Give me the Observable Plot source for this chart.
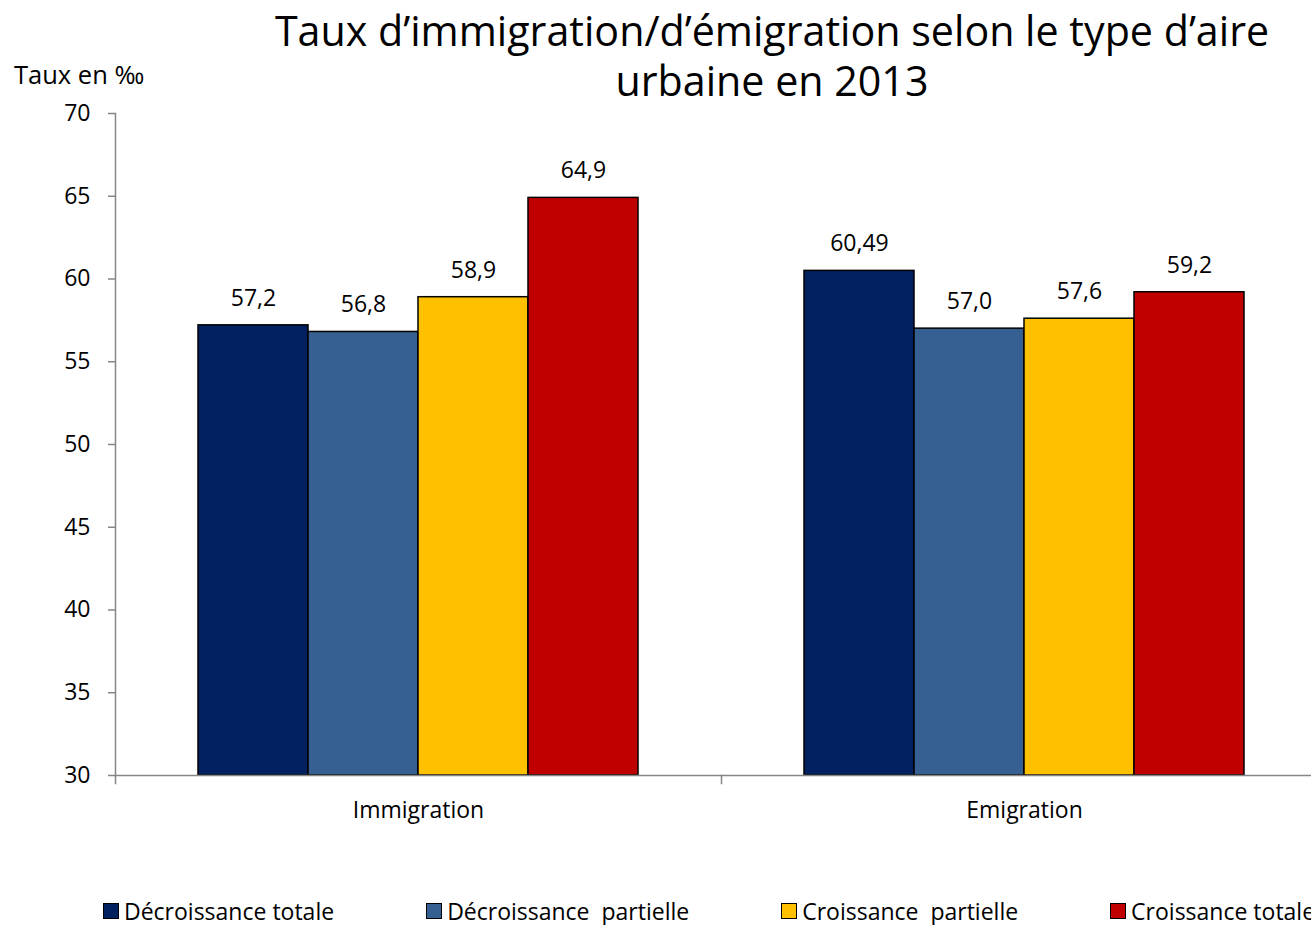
<!DOCTYPE html>
<html>
<head>
<meta charset="utf-8">
<script src="https://cdn.jsdelivr.net/npm/d3@7"></script>
<script src="https://cdn.jsdelivr.net/npm/@observablehq/plot@0.6"></script>
<style>
  html, body { margin: 0; padding: 0; background: #fff; overflow: hidden; width: 1311px; height: 925px; }
  body { position: relative; font-family: "Open Sans", sans-serif; color: #000; }
  .tl { position: absolute; left: 172px; width: 1200px; text-align: center; font-size: 41.2px; height: 50px; line-height: 50px; white-space: nowrap; overflow: visible; }
  #t1 { top: 5px; }
  #t2 { top: 55px; }
  #ylabel { position: absolute; left: 14px; top: 59px; font-size: 25.5px; line-height: 30px; white-space: nowrap; }
  #chart { position: absolute; left: 0; top: 0; width: 1340px; }
  #chart svg { max-width: none !important; }
  #legend { position: absolute; left: 103px; top: 896px; display: flex; gap: 92px; font-size: 23px; line-height: 30px; white-space: pre; }
  .item { display: flex; align-items: center; }
  .sw { width: 14px; height: 14px; border: 1px solid #000; margin-right: 5px; }
</style>
</head>
<body>
<div class="tl" id="t1">Taux d’immigration/d’émigration selon le type d’aire</div>
<div class="tl" id="t2">urbaine en 2013</div>
<div id="ylabel">Taux en ‰</div>
<div id="chart"></div>
<div id="legend"></div>
<script>
const groups = ["Immigration", "Emigration"];
const types = ["Décroissance totale", "Décroissance  partielle", "Croissance  partielle", "Croissance totale"];
const colors = ["#002060", "#366092", "#FFC000", "#C00000"];
const immigration = [57.2, 56.8, 58.9, 64.9];
const emigration = [60.49, 57.0, 57.6, 59.2];
const immigrationLabels = ["57,2", "56,8", "58,9", "64,9"];
const emigrationLabels = ["60,49", "57,0", "57,6", "59,2"];
const yTicks = [30, 35, 40, 45, 50, 55, 60, 65, 70];

const data = [];
types.forEach((t, i) => data.push({group: "Immigration", type: t, value: immigration[i], label: immigrationLabels[i]}));
types.forEach((t, i) => data.push({group: "Emigration", type: t, value: emigration[i], label: emigrationLabels[i]}));

const axisGray = "#868686";

const chart = Plot.plot({
  width: 1340,
  height: 835,
  marginLeft: 115,
  marginRight: 13,
  marginTop: 113,
  marginBottom: 60,
  style: {fontFamily: "Open Sans, sans-serif", fontSize: "23px", color: "#000", background: "transparent", overflow: "visible"},
  fx: {domain: groups, padding: 0, label: null},
  x: {domain: types, paddingInner: 0, paddingOuter: 0.7545, axis: null},
  y: {domain: [30, 70], label: null},
  color: {domain: types, range: colors},
  marks: [
    Plot.barY(data, {fx: "group", x: "type", y1: 30, y2: "value", fill: "type", stroke: "#000", strokeWidth: 1.5}),
    Plot.ruleY([30], {stroke: axisGray, strokeWidth: 1.5}),
    Plot.frame({anchor: "left", facet: "super", stroke: axisGray, strokeWidth: 1.5}),
    Plot.frame({anchor: "left", stroke: axisGray, strokeWidth: 1.5, insetTop: 662, insetBottom: -8}),
    Plot.text(data, {fx: "group", x: "type", y: "value", text: "label", dy: -27, fontSize: 23, fill: "#000"}),
    Plot.axisY(yTicks, {tickSize: 7, tickPadding: 18, stroke: axisGray, strokeWidth: 1.5, fill: "#000", fontSize: 23, label: null}),
    Plot.axisFx({anchor: "bottom", tickSize: 0, tickPadding: 26, fontSize: 23, fill: "#000", label: null})
  ]
});
document.getElementById("chart").appendChild(chart);

const legend = d3.select("#legend");
types.forEach((t, i) => {
  const it = legend.append("div").attr("class", "item");
  it.append("div").attr("class", "sw").style("background", colors[i]);
  it.append("span").text(t);
});
</script>
</body>
</html>
